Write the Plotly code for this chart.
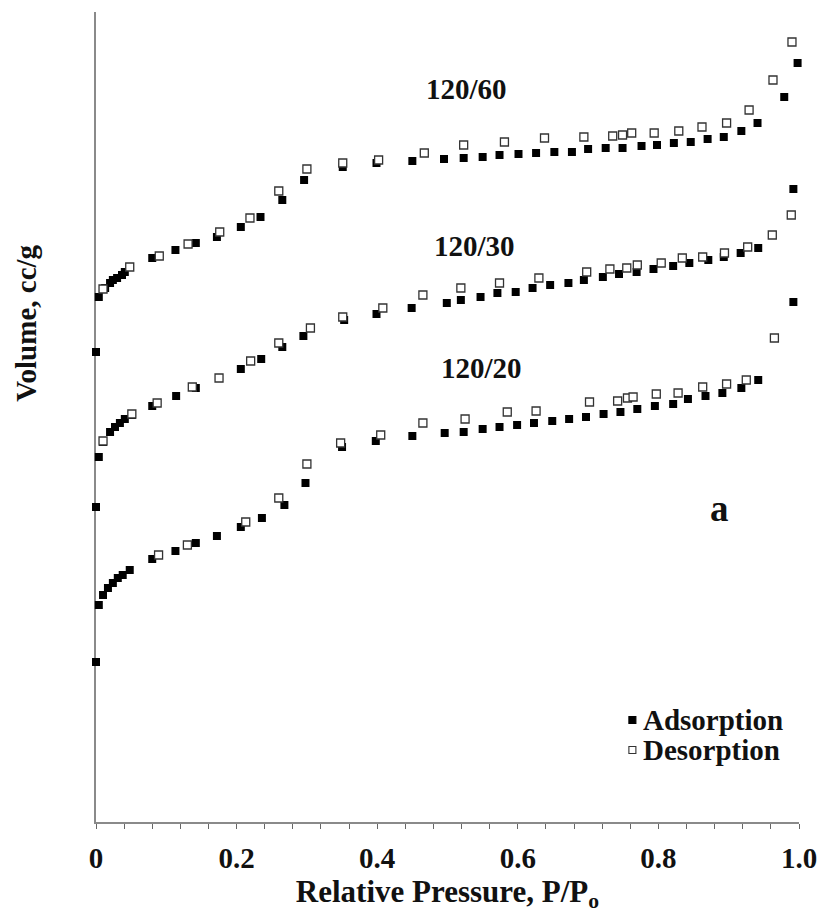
import plotly.graph_objects as go

# Relative pressure (P/Po) and volume (arbitrary units, offset isotherms)
ads_60_x = [0.000, 0.004, 0.013, 0.020, 0.024, 0.030, 0.037, 0.041, 0.048, 0.080, 0.113, 0.142, 0.172,
            0.206, 0.234, 0.265, 0.296, 0.351, 0.399, 0.450, 0.495, 0.523, 0.550, 0.574, 0.601, 0.626,
            0.652, 0.677, 0.700, 0.725, 0.749, 0.776, 0.798, 0.822, 0.846, 0.870, 0.893, 0.918, 0.941,
            0.979, 0.998]
ads_60_y = [470, 525, 534, 539, 542, 544, 547, 550, 555, 564, 572, 579, 585, 595, 605, 622, 642, 655,
            659, 661, 663, 664, 665, 667, 668, 669, 670, 670, 673, 674, 674, 676, 677, 679, 680, 683,
            685, 691, 699, 725, 759]
des_60_x = [0.010, 0.048, 0.090, 0.131, 0.176, 0.219, 0.260, 0.300, 0.351, 0.402, 0.467, 0.523, 0.581,
            0.638, 0.694, 0.735, 0.749, 0.762, 0.794, 0.829, 0.862, 0.897, 0.929, 0.963, 0.990]
des_60_y = [533, 555, 566, 578, 590, 604, 631, 653, 659, 662, 669, 677, 680, 684, 685, 686, 687, 689,
            689, 691, 695, 699, 712, 742, 780]

ads_30_x = [0.000, 0.004, 0.010, 0.020, 0.027, 0.034, 0.041, 0.051, 0.080, 0.114, 0.142, 0.175, 0.206,
            0.235, 0.265, 0.295, 0.353, 0.399, 0.449, 0.499, 0.519, 0.547, 0.571, 0.597, 0.621, 0.646,
            0.672, 0.694, 0.721, 0.744, 0.769, 0.793, 0.821, 0.844, 0.871, 0.893, 0.917, 0.942, 0.992]
ads_30_y = [315, 365, 380, 390, 395, 399, 403, 407, 416, 426, 434, 444, 453, 463, 475, 486, 502, 508,
            514, 519, 522, 525, 529, 530, 534, 537, 539, 542, 545, 548, 550, 553, 556, 559, 562, 565,
            569, 574, 633]
des_30_x = [0.010, 0.051, 0.087, 0.137, 0.175, 0.220, 0.260, 0.305, 0.351, 0.408, 0.465, 0.519, 0.574,
            0.630, 0.698, 0.731, 0.755, 0.770, 0.804, 0.834, 0.863, 0.894, 0.927, 0.962, 0.989]
des_30_y = [381, 408, 419, 435, 444, 461, 479, 494, 505, 514, 527, 534, 539, 544, 550, 553, 554, 557,
            559, 564, 565, 569, 575, 587, 607]

ads_20_x = [0.000, 0.004, 0.010, 0.017, 0.024, 0.031, 0.038, 0.048, 0.080, 0.113, 0.142, 0.172, 0.206,
            0.236, 0.268, 0.298, 0.350, 0.398, 0.450, 0.496, 0.523, 0.550, 0.574, 0.599, 0.623, 0.649,
            0.673, 0.697, 0.722, 0.746, 0.770, 0.795, 0.821, 0.842, 0.867, 0.891, 0.918, 0.942, 0.992]
ads_20_y = [160, 217, 227, 234, 239, 244, 247, 252, 263, 271, 279, 286, 295, 304, 317, 339, 375, 381,
            386, 389, 390, 393, 395, 397, 399, 401, 403, 405, 408, 410, 413, 416, 418, 423, 426, 429,
            434, 442, 520]
des_20_x = [0.089, 0.130, 0.213, 0.260, 0.300, 0.348, 0.405, 0.465, 0.525, 0.585, 0.626, 0.702, 0.742,
            0.756, 0.764, 0.797, 0.828, 0.863, 0.897, 0.925, 0.965]
des_20_y = [267, 277, 300, 324, 358, 379, 387, 399, 403, 410, 411, 420, 421, 424, 425, 428, 429, 435,
            438, 442, 484]

series_labels = ["120/60", "120/30", "120/20"]
label_pos_x = [0.527, 0.539, 0.549]
label_pos_y = [733, 576, 454]

legend_names = ["Adsorption", "Desorption"]

tick_vals = [0, 0.2, 0.4, 0.6, 0.8, 1.0]
tick_text = ["0", "0.2", "0.4", "0.6", "0.8", "1.0"]
minor_tick_step = 0.04

FONT = "Liberation Serif"
TXT = "#111111"
ADS_STYLE = dict(symbol="square", size=8, color="black", line=dict(width=0))
DES_STYLE = dict(symbol="square", size=8, color="white", line=dict(width=1.3, color="#333333"))

fig = go.Figure()

ads_sets = [(ads_60_x, ads_60_y), (ads_30_x, ads_30_y), (ads_20_x, ads_20_y)]
des_sets = [(des_60_x, des_60_y), (des_30_x, des_30_y), (des_20_x, des_20_y)]

for lab, (xs, ys) in zip(series_labels, ads_sets):
    fig.add_trace(go.Scatter(
        x=xs, y=ys, mode="markers", name=legend_names[0] + " " + lab, legendgroup="ads",
        showlegend=False, cliponaxis=False, marker=ADS_STYLE,
    ))
for lab, (xs, ys) in zip(series_labels, des_sets):
    fig.add_trace(go.Scatter(
        x=xs, y=ys, mode="markers", name=legend_names[1] + " " + lab, legendgroup="des",
        showlegend=False, cliponaxis=False, marker=DES_STYLE,
    ))

for lab, lx, ly in zip(series_labels, label_pos_x, label_pos_y):
    fig.add_annotation(x=lx, y=ly, text="<b>%s</b>" % lab, showarrow=False,
                       font=dict(family=FONT, size=29, color=TXT))

fig.add_annotation(x=0.887, y=314, text="<b>a</b>", showarrow=False,
                   font=dict(family=FONT, size=37, color=TXT))

# compact legend (marker + label), placed in paper coordinates
leg_x_marker = 0.763
leg_x_text = 0.775
leg_rows_y = [0.1259, 0.0889]
leg_fill = ["black", "white"]
leg_line = ["black", "#333333"]
for name, yy, fc, lc in zip(legend_names, leg_rows_y, leg_fill, leg_line):
    fig.add_shape(type="rect", xref="paper", yref="paper",
                  xsizemode="pixel", ysizemode="pixel",
                  xanchor=leg_x_marker, yanchor=yy,
                  x0=-3.5, x1=3.5, y0=-3.5, y1=3.5,
                  fillcolor=fc, line=dict(color=lc, width=1.1))
    fig.add_annotation(x=leg_x_text, y=yy, xref="paper", yref="paper",
                       xanchor="left", yanchor="middle", showarrow=False,
                       text="<b>%s</b>" % name,
                       font=dict(family=FONT, size=29, color=TXT))

# y-axis title placed as in the reference (centred higher than plot middle)
fig.add_annotation(x=-0.100, y=0.616, xref="paper", yref="paper", showarrow=False,
                   xanchor="center", yanchor="middle",
                   textangle=-90, text="<b>Volume, cc/g</b>",
                   font=dict(family=FONT, size=29, color=TXT))

fig.update_layout(
    width=829, height=914,
    margin=dict(l=96, r=24, t=12, b=92),
    paper_bgcolor="white", plot_bgcolor="white",
    font=dict(family=FONT, color=TXT),
    showlegend=False,
    xaxis=dict(
        range=[0, 1.0], showgrid=False, zeroline=False,
        showline=True, linecolor="#8a8a8a", linewidth=1.5, layer="below traces",
        tickmode="array", tickvals=tick_vals, ticktext=tick_text,
        ticks="outside", ticklen=5, tickcolor="#666666", tickwidth=1.2,
        minor=dict(dtick=minor_tick_step, tick0=0, ticks="outside", ticklen=5,
                   tickcolor="#666666", tickwidth=1.2, showgrid=False),
        tickfont=dict(family=FONT, size=29, color=TXT, weight="bold"),
        ticklabelstandoff=4,
        title=dict(text="<b>Relative Pressure, P/P<sub>o</sub></b>",
                   font=dict(family=FONT, size=31, color=TXT), standoff=2),
    ),
    yaxis=dict(
        range=[0, 810], showgrid=False, zeroline=False,
        showline=True, linecolor="#8a8a8a", linewidth=1.5, layer="below traces",
        showticklabels=False, ticks="",
    ),
)

fig.write_html("out.html")
